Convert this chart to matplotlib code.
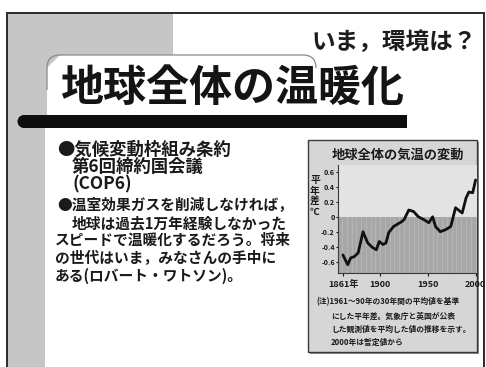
import matplotlib
matplotlib.use("Agg")
import matplotlib.pyplot as plt
from matplotlib.patches import Rectangle, Circle, PathPatch, Polygon
from matplotlib.path import Path

plt.rcParams['font.family'] = ['Noto Sans CJK JP', 'DejaVu Sans']

# Global mean temperature anomaly (deg C, relative to 1961-90 mean)
years = [1861, 1866, 1869, 1873, 1877, 1882, 1887, 1892, 1896, 1899, 1903,
         1906, 1909, 1914, 1922, 1925, 1930, 1935, 1940, 1946, 1951, 1955,
         1958, 1963, 1969, 1974, 1979, 1982, 1986, 1990, 1993, 1997, 2000]
anomaly = [-0.51, -0.64, -0.55, -0.53, -0.48, -0.20, -0.35, -0.41, -0.44,
           -0.33, -0.37, -0.35, -0.21, -0.13, -0.07, -0.04, 0.09, 0.07,
           0.00, -0.04, -0.08, 0.00, -0.13, -0.20, -0.17, -0.13, 0.12,
           0.09, 0.05, 0.25, 0.33, 0.32, 0.49]

ytick_values = [0.6, 0.4, 0.2, 0.0, -0.2, -0.4, -0.6]
ytick_labels = ["0.6", "0.4", "0.2", "0", "-0.2", "-0.4", "-0.6"]
xtick_values = [1861, 1900, 1950, 2000]
xtick_labels = ["1861年", "1900", "1950", "2000"]

title = "地球全体の温暖化"
subtitle = "いま，環境は？"
bullet1 = ["●気候変動枠組み条約", "第6回締約国会議", "(COP6)"]
bullet2 = ["●温室効果ガスを削減しなければ，",
           "地球は過去1万年経験しなかった",
           "スピードで温暖化するだろう。将来",
           "の世代はいま，みなさんの手中に",
           "ある(ロバート・ワトソン)。"]
chart_title = "地球全体の気温の変動"
chart_ylabel = "平\n年\n差\n℃"
chart_note = ["(注)1961～90年の30年間の平均値を基準",
              "にした平年差。気象庁と英国が公表",
              "した観測値を平均した値の推移を示す。",
              "2000年は暫定値から"]

W, H = 486, 367
fig = plt.figure(figsize=(W / 100, H / 100), dpi=100)
fig.patch.set_facecolor("white")

# Slide canvas in pixel units (y downward)
bg = fig.add_axes([0, 0, 1, 1])
bg.set_xlim(0, W)
bg.set_ylim(H, 0)
bg.axis("off")

gray = "#c6c6c6"
bg.add_patch(Rectangle((7, 13), 166, 104, facecolor=gray, edgecolor="none"))
bg.add_patch(Rectangle((7, 13), 38, H - 13, facecolor=gray, edgecolor="none"))

# slide frame
bg.plot([7, 7, 484, 484], [H, 13, 13, H], color="#2a2a2a", lw=1.4,
        solid_joinstyle="miter")

# white title tab with rounded top
r = 13
tab_x0, tab_x1, tab_y0, tab_y1 = 47, 316, 55, 118
bg.add_patch(Polygon([(tab_x0, tab_y1), (tab_x0, tab_y0 + r), (tab_x0 + r, tab_y0),
                      (tab_x1 - r, tab_y0), (tab_x1, tab_y0 + r), (tab_x1, tab_y1)],
                     closed=True, facecolor="white", edgecolor="none"))
verts = [(tab_x0, 90), (tab_x0, tab_y0 + r), (tab_x0, tab_y0), (tab_x0 + r, tab_y0),
         (tab_x1 - r, tab_y0), (tab_x1, tab_y0), (tab_x1, tab_y0 + r)]
codes = [Path.MOVETO, Path.LINETO, Path.CURVE3, Path.CURVE3,
         Path.LINETO, Path.CURVE3, Path.CURVE3]
bg.add_patch(PathPatch(Path(verts, codes), facecolor="none",
                       edgecolor="#8a8a8a", lw=0.9))

bg.text(394, 42, subtitle, fontsize=17, fontweight="bold", color="#1c1c1c",
        ha="center", va="center")
bg.text(232, 88, title, fontsize=31, fontweight="bold", color="#141414",
        ha="center", va="center")

# black rule under the title
bg.add_patch(Rectangle((24, 115), 383, 13, facecolor="#0e0e0e", edgecolor="none"))
bg.add_patch(Circle((24, 121.5), 6.5, facecolor="#0e0e0e", edgecolor="none"))

# bullet text
b1_pos = [(57, 150), (72, 167), (72, 184)]
for (x, y), s in zip(b1_pos, bullet1):
    bg.text(x, y, s, fontsize=12.5, fontweight="bold", color="#1a1a1a",
            ha="left", va="center")
b2_pos = [(57, 205), (72, 223), (55, 240), (55, 258), (55, 276)]
for (x, y), s in zip(b2_pos, bullet2):
    bg.text(x, y, s, fontsize=10.6, fontweight="bold", color="#1a1a1a",
            ha="left", va="center")

# chart panel
bg.add_patch(Rectangle((310, 142), 169, 212, facecolor="#8c8c8c", edgecolor="none"))
bg.add_patch(Rectangle((308, 140), 169, 212, facecolor="#d6d6d6",
                       edgecolor="#3a3a3a", lw=1.0))
bg.text(398, 155, chart_title, fontsize=9.5, fontweight="bold", color="#1a1a1a",
        ha="center", va="center")
bg.text(315, 196, chart_ylabel, fontsize=7, fontweight="bold", color="#1a1a1a",
        ha="center", va="center", linespacing=1.05)
note_pos = [(316, 302), (331, 316), (331, 329), (331, 342)]
for (x, y), s in zip(note_pos, chart_note):
    bg.text(x, y, s, fontsize=5.6, fontweight="bold", color="#1a1a1a",
            ha="left", va="center")

# line chart
px0, px1, py0, py1 = 338, 477, 165, 273
ax = fig.add_axes([px0 / W, (H - py1) / H, (px1 - px0) / W, (py1 - py0) / H])
ax.set_xlim(1855.8, 2001.5)
ax.set_ylim(-0.75, 0.69)
ax.set_facecolor("#e3e3e3")
ax.axhspan(-0.75, 0, facecolor="#a7a7a7", edgecolor="none", zorder=0)
ax.vlines(range(1860, 2001, 5), -0.75, 0, color="#b8b8b8", lw=0.6, zorder=0.5)
ax.plot(years, anomaly, color="#101010", lw=2.0, solid_joinstyle="round",
        solid_capstyle="round", zorder=3)

ax.set_yticks(ytick_values)
ax.set_yticklabels(ytick_labels)
ax.set_xticks(xtick_values)
ax.set_xticklabels(xtick_labels)
ax.tick_params(axis="y", length=1.5, pad=0.8, labelsize=5.2, colors="#1a1a1a")
ax.tick_params(axis="x", length=2, pad=3, labelsize=6.5, colors="#1a1a1a")
for lab in ax.get_xticklabels() + ax.get_yticklabels():
    lab.set_fontweight("bold")
for side in ("top", "right"):
    ax.spines[side].set_visible(False)
for side in ("left", "bottom"):
    ax.spines[side].set_color("#3a3a3a")
    ax.spines[side].set_linewidth(0.8)

fig.savefig("out.png", dpi=100, facecolor="white")
